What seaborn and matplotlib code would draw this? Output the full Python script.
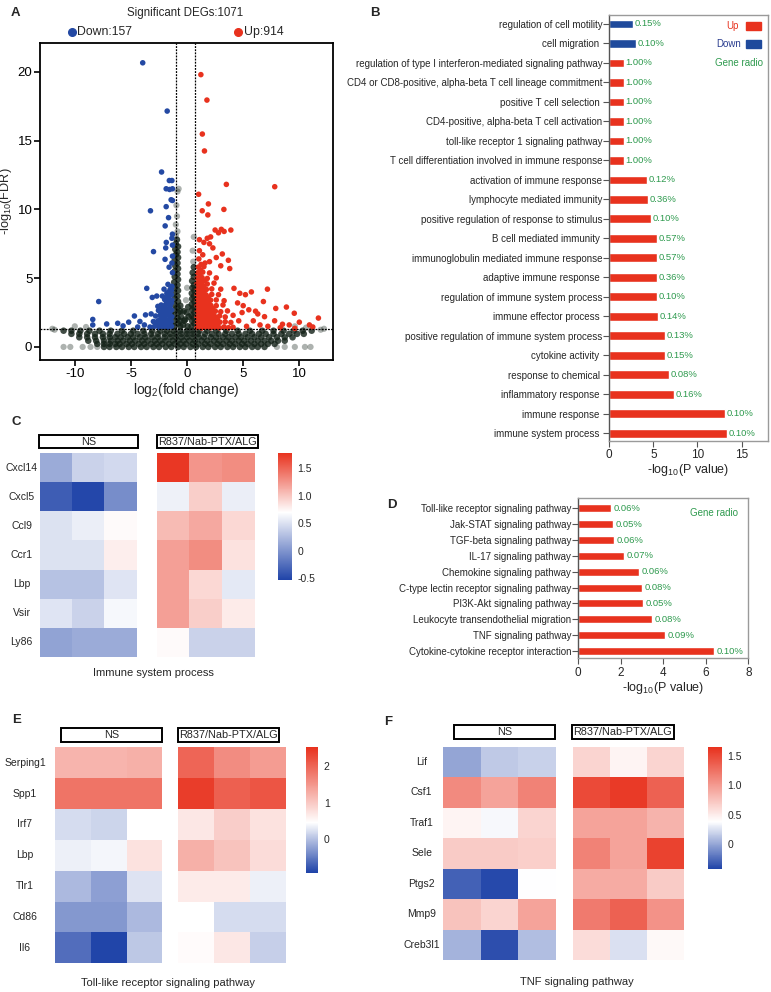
import numpy as np
import pandas as pd
import matplotlib
matplotlib.use("Agg")
import matplotlib.pyplot as plt
import seaborn as sns
from matplotlib.colors import LinearSegmentedColormap
from matplotlib.patches import Rectangle
from matplotlib.lines import Line2D

sns.set_theme(style="white")
plt.rcParams['font.family'] = ['Liberation Sans', 'DejaVu Sans']
plt.rcParams['mathtext.default'] = 'regular'
plt.rcParams['axes.unicode_minus'] = False

RED = '#E8321E'
BLUE = '#2449A3'
NAVY = '#1F4A9C'
GREEN = '#2E9A4E'

# ---------------- Panel A: volcano data ----------------
fc_thresholds = [-0.95, 0.75]
fdr_threshold = 1.3
n_down, n_up = 157, 914

ns_rows = [
    (0.0, [-7.4, -6.9, -6.3, -5.8, -5.2, -4.7, -4.1, -3.6, -3.0, -2.5, -1.9, -1.4,
           -0.8, -0.3, 0.3, 0.8, 1.4, 1.9, 2.5, 3.0, 3.6, 4.1, 4.7, 5.2, 5.8, 6.3, 6.9]),
    (0.22, [-8.0, -7.4, -6.9, -6.4, -6.0, -5.4, -4.9, -4.3, -3.8, -3.2, -2.7, -2.2, -1.6, -1.1, -0.6, -0.1, 0.5, 1.0,
            1.6, 2.1, 2.7, 3.2, 3.8, 4.3, 4.9, 5.4, 6.0, 6.6, 7.2, 7.8]),
    (0.45, [-8.8, -8.1, -7.4, -6.8, -6.2, -5.7, -5.1, -4.6, -4.0, -3.5, -2.9, -2.4, -1.9, -1.3, -0.8, -0.3, 0.2, 0.7,
            1.3, 1.8, 2.4, 2.9, 3.5, 4.0, 4.6, 5.1, 5.7, 6.3, 6.9, 7.5, 8.1, 8.7]),
    (0.7, [-9.6, -8.9, -8.2, -7.5, -6.9, -6.4, -5.9, -5.3, -4.8, -4.2, -3.7, -3.1, -2.6, -2.0, -1.5, -1.0, -0.5, 0.0,
           0.5, 1.0, 1.5, 2.1, 2.6, 3.2, 3.7, 4.3, 4.8, 5.4, 6.0, 6.6, 7.3, 8.0, 8.7, 9.4]),
    (0.95, [-10.3, -9.6, -8.9, -8.2, -7.5, -6.9, -6.2, -5.6, -5.0, -4.4, -3.8, -3.2, -2.6, -2.0, -1.5, -1.0, -0.5, 0.0,
            0.5, 1.0, 1.6, 2.2, 2.8, 3.4, 4.0, 4.6, 5.2, 5.8, 6.4, 7.0, 7.7, 8.4, 9.1, 9.8, 10.4]),
    (1.18, [-11.0, -10.3, -9.5, -8.7, -7.8, -6.8, -5.8, -4.8, -3.9, -3.1, -2.4, -1.8, -1.2, -0.6, 0.0, 0.5, 1.1, 1.8,
            2.6, 3.5, 4.5, 5.6, 6.7, 7.7, 8.6, 9.5, 10.3, 11.1]),
]

ns_points = [
    (-1.15, 1.5), (-0.8, 1.7), (-1.1, 1.9), (-0.85, 2.1), (-1.2, 2.3), (-0.8, 2.5), (-1.1, 2.7), (-0.85, 2.9),
    (-1.15, 3.1), (-0.8, 3.3), (-1.1, 3.5), (-0.85, 3.7), (-1.15, 3.9), (-0.8, 4.1), (-1.1, 4.3), (-0.85, 4.5),
    (-1.15, 4.7), (-0.8, 4.9), (-1.1, 5.1), (-0.85, 5.3), (-1.1, 5.5), (-0.8, 5.7), (-1.05, 5.9), (-0.85, 6.1),
    (-1.1, 6.3), (-0.8, 6.5), (-1.0, 6.7), (-0.85, 6.9), (-1.05, 7.1), (-0.8, 7.3), (-1.0, 7.5), (-0.9, 7.8),
    (-1.4, 1.6), (-1.45, 2.4), (-0.6, 1.5), (-0.55, 2.2), (-0.6, 3.0), (-0.65, 1.9), (-0.6, 2.6),
    (-0.35, 1.6), (-0.15, 2.0), (0.05, 1.5), (-0.3, 2.6), (0.1, 2.9), (-0.25, 1.9),
    (0.15, 2.2), (-0.05, 2.5),
    (0.4, 1.5), (0.65, 1.7), (0.45, 1.9), (0.62, 2.1), (0.4, 2.3), (0.65, 2.5), (0.45, 2.7), (0.62, 2.9),
    (0.42, 3.1), (0.65, 3.3), (0.45, 3.5), (0.62, 3.7), (0.42, 3.9), (0.65, 4.1), (0.48, 4.3), (0.62, 4.5),
    (0.45, 4.8), (0.6, 5.1), (0.5, 5.4), (0.6, 5.8),
]

ns_light = [
    (-11.0, 0.0), (-10.4, 0.0), (-9.3, 0.0), (-8.6, 0.0), (-8.0, 0.0), (8.0, 0.0), (8.7, 0.0), (9.6, 0.0),
    (10.5, 0.0), (11.0, 0.0), (-12.0, 1.32), (-10.0, 1.5), (-9.0, 1.45), (9.6, 1.5), (10.6, 1.4), (12.2, 1.32),
    (-11.8, 1.25), (11.9, 1.25),
    (-1.0, 8.1), (-0.85, 8.4), (-1.0, 8.9), (-0.9, 9.5), (-0.95, 10.3), (-0.85, 11.3), (-0.75, 11.5),
    (-0.1, 3.4), (0.0, 4.3), (0.55, 6.2), (0.5, 7.0), (0.6, 8.0),
]

down_points = [
    (-3.95, 20.66), (-1.77, 17.15), (-2.27, 12.72), (-1.58, 12.1), (-1.35, 12.1), (-1.86, 11.5), (-1.56, 11.45),
    (-1.3, 11.5), (-1.42, 10.7), (-1.3, 10.65), (-3.26, 9.9), (-1.86, 10.2), (-1.65, 9.4), (-1.95, 8.8),
    (-1.3, 8.2), (-1.35, 7.9), (-1.3, 7.4), (-1.85, 7.6), (-1.9, 7.2), (-2.99, 6.93), (-1.96, 6.37), (-1.3, 6.6),
    (-1.35, 6.1), (-1.6, 5.8), (-1.3, 5.4), (-1.7, 4.55), (-1.35, 4.4), (-3.59, 4.26), (-2.2, 3.7), (-3.1, 3.6),
    (-7.87, 3.3), (-8.4, 2.0), (-8.4, 1.6), (-7.16, 1.67), (-6.18, 1.72), (-5.7, 1.53), (-4.69, 2.25),
    (-5.2, 1.8), (-4.2, 1.85), (-3.7, 2.33), (-4.4, 1.45), (-3.8, 1.6),
    (-3.3, 1.45), (-2.9, 1.5), (-2.5, 1.42), (-2.1, 1.48), (-1.7, 1.44), (-1.38, 1.5),
    (-3.0, 1.85), (-2.6, 1.9), (-2.2, 1.82), (-1.8, 1.88), (-1.42, 1.85),
    (-2.8, 2.25), (-2.4, 2.3), (-2.0, 2.22), (-1.6, 2.28), (-1.36, 2.2),
    (-2.55, 2.65), (-2.1, 2.7), (-1.7, 2.62), (-1.38, 2.68),
    (-2.3, 3.05), (-1.9, 3.1), (-1.5, 3.02), (-3.2, 2.4), (-2.6, 2.95),
    (-2.0, 3.45), (-1.6, 3.5), (-1.36, 3.4), (-2.7, 3.7), (-1.8, 3.9), (-1.5, 4.2), (-2.05, 4.2),
    (-1.55, 1.65), (-1.95, 1.65), (-2.35, 1.65), (-1.55, 2.05), (-1.95, 2.05), (-2.35, 2.05), (-1.55, 2.45),
    (-1.95, 2.45), (-2.3, 2.45), (-1.55, 2.85), (-1.95, 2.9), (-1.4, 3.2), (-1.75, 3.3), (-1.4, 3.8),
    (-1.65, 4.0), (-1.4, 4.1), (-2.75, 1.65), (-2.2, 2.85), (-1.75, 3.65),
]

up_points = [
    (1.23, 19.8), (1.77, 17.95), (1.36, 15.48), (1.55, 14.25), (3.5, 11.82), (7.81, 11.65), (1.03, 11.1),
    (1.9, 10.4), (1.35, 9.9), (3.28, 10.0), (1.85, 9.6), (2.5, 8.5), (2.8, 8.3), (3.05, 8.55), (3.3, 8.4),
    (3.9, 8.5), (1.1, 7.8), (1.5, 7.6), (1.8, 7.9), (2.1, 8.0), (2.0, 7.5), (2.3, 7.2), (3.14, 6.76),
    (3.68, 6.3), (3.8, 5.7), (3.0, 5.9), (1.1, 7.0), (1.05, 6.4), (1.4, 6.7), (2.6, 6.5), (2.0, 6.2),
    (4.18, 4.26), (4.7, 3.9), (5.2, 3.8), (5.73, 4.0), (7.16, 4.2), (4.5, 3.2), (5.0, 3.0), (4.9, 2.5),
    (5.5, 2.7), (6.1, 2.6), (6.3, 2.4), (6.9, 2.2), (7.9, 2.8), (8.85, 2.9), (9.55, 2.45), (11.7, 2.1),
    (7.8, 1.9), (8.5, 1.65), (9.1, 1.6), (10.0, 1.8), (10.9, 1.6), (11.2, 1.45), (6.5, 1.6), (5.9, 1.9),
    (7.2, 1.5), (5.3, 1.5), (4.6, 1.9), (4.1, 2.3), (6.8, 3.3), (8.3, 1.4), (9.6, 1.35),
    (0.9, 1.42), (1.3, 1.38), (1.7, 1.45), (2.1, 1.4), (2.5, 1.44), (2.9, 1.39), (3.3, 1.46), (3.7, 1.4),
    (4.1, 1.43), (0.92, 1.8), (1.32, 1.84), (1.72, 1.78), (2.12, 1.82), (2.52, 1.86), (2.93, 1.8), (3.4, 1.83),
    (3.9, 1.78), (0.9, 2.2), (1.28, 2.24), (1.7, 2.18), (2.1, 2.22), (2.5, 2.2), (2.9, 2.26), (3.4, 2.18),
    (0.92, 2.6), (1.3, 2.62), (1.72, 2.58), (2.1, 2.64), (2.52, 2.6), (3.0, 2.56), (3.6, 2.62),
    (0.9, 3.0), (1.3, 3.04), (1.7, 2.98), (2.12, 3.02), (2.6, 3.0), (3.2, 3.05),
    (0.92, 3.4), (1.3, 3.38), (1.72, 3.44), (2.1, 3.4), (2.6, 3.42), (3.3, 3.36),
    (0.9, 3.8), (1.3, 3.84), (1.7, 3.78), (2.2, 3.82), (2.8, 3.8),
    (0.92, 4.2), (1.32, 4.24), (1.72, 4.18), (2.2, 4.22), (3.0, 4.2),
    (0.9, 4.6), (1.3, 4.62), (1.8, 4.58), (2.4, 4.64),
    (0.92, 5.0), (1.34, 5.04), (1.8, 4.98), (2.6, 5.02),
    (0.95, 5.4), (1.4, 5.44), (2.0, 5.38), (1.0, 5.8), (1.5, 5.84),
    (1.1, 1.6), (1.5, 1.6), (1.9, 1.6), (2.3, 1.6), (2.7, 1.6), (1.1, 2.0), (1.5, 2.0), (1.9, 2.0), (2.3, 2.0),
    (2.7, 2.0), (1.1, 2.4), (1.5, 2.4), (1.9, 2.4), (2.3, 2.4), (1.1, 2.8), (1.5, 2.8), (1.9, 2.8), (2.3, 2.8),
    (1.1, 3.2), (1.5, 3.2), (1.9, 3.2), (1.1, 3.6), (1.5, 3.6), (1.9, 3.6), (1.1, 4.0), (1.5, 4.0),
    (1.1, 4.4), (1.5, 4.4), (1.1, 4.8), (1.55, 4.8), (1.15, 5.2), (1.2, 5.6), (1.25, 6.0), (1.6, 6.1),
]

# ---------------- Panel B: GO enrichment ----------------
go_terms = [
    "regulation of cell motility", "cell migration ",
    "regulation of type I interferon-mediated signaling pathway",
    "CD4 or CD8-positive, alpha-beta T cell lineage commitment",
    "positive T cell selection ", "CD4-positive, alpha-beta T cell activation",
    "toll-like receptor 1 signaling pathway", "T cell differentiation involved in immune response",
    "activation of immune response", "lymphocyte mediated immunity",
    "positive regulation of response to stimulus", "B cell mediated immunity ",
    "immunoglobulin mediated immune response", "adaptive immune response ",
    "regulation of immune system process", "immune effector process ",
    "positive regulation of immune system process", "cytokine activity ",
    "response to chemical ", "inflammatory response ", "immune response ", "immune system process ",
]
go_logp = [2.72, 3.02, 1.66, 1.66, 1.66, 1.66, 1.66, 1.66, 4.30, 4.42, 4.69, 5.37, 5.37, 5.37, 5.44, 5.55,
           6.34, 6.34, 6.80, 7.33, 13.1, 13.3]
go_dir = ["Down", "Down"] + ["Up"] * 20
go_ratio = ["0.15%", "0.10%", "1.00%", "1.00%", "1.00%", "1.00%", "1.00%", "1.00%", "0.12%", "0.36%", "0.10%",
            "0.57%", "0.57%", "0.36%", "0.10%", "0.14%", "0.13%", "0.15%", "0.08%", "0.16%", "0.10%", "0.10%"]

# ---------------- Panel D: KEGG ----------------
kegg_terms = ["Toll-like receptor signaling pathway", "Jak-STAT signaling pathway", "TGF-beta signaling pathway",
              "IL-17 signaling pathway", "Chemokine signaling pathway", "C-type lectin receptor signaling pathway",
              "PI3K-Akt signaling pathway", "Leukocyte transendothelial migration", "TNF signaling pathway",
              "Cytokine-cytokine receptor interaction"]
kegg_logp = [1.54, 1.65, 1.68, 2.15, 2.87, 2.98, 3.06, 3.45, 4.08, 6.40]
kegg_ratio = ["0.06%", "0.05%", "0.06%", "0.07%", "0.06%", "0.08%", "0.05%", "0.08%", "0.09%", "0.10%"]

# ---------------- Heatmaps ----------------
groups = ["NS", "R837/Nab-PTX/ALG"]

c_genes = ["Cxcl14", "Cxcl5", "Ccl9", "Ccr1", "Lbp", "Vsir", "Ly86"]
c_ns = [[0.15, 0.40, 0.45], [-0.35, -0.50, -0.05], [0.50, 0.58, 0.72], [0.50, 0.50, 0.78],
        [0.30, 0.30, 0.52], [0.52, 0.40, 0.65], [0.10, 0.15, 0.15]]
c_tr = [[1.75, 1.25, 1.30], [0.60, 0.95, 0.58], [1.05, 1.15, 0.90], [1.20, 1.30, 0.85],
        [1.20, 0.90, 0.55], [1.20, 0.95, 0.80], [0.72, 0.40, 0.40]]

e_genes = ["Serping1", "Spp1", "Irf7", "Lbp", "Tlr1", "Cd86", "Il6"]
e_ns = [[1.20, 1.20, 1.25], [1.85, 1.85, 1.85], [0.20, 0.15, 0.45], [0.35, 0.38, 0.75],
        [-0.05, -0.25, 0.25], [-0.30, -0.30, -0.05], [-0.60, -0.90, 0.05]]
e_tr = [[2.00, 1.60, 1.45], [2.40, 2.05, 2.15], [0.70, 0.95, 0.75], [1.25, 1.05, 0.80],
        [0.65, 0.65, 0.35], [0.45, 0.20, 0.20], [0.50, 0.70, 0.10]]

f_genes = ["Lif", "Csf1", "Traf1", "Sele", "Ptgs2", "Mmp9", "Creb3l1"]
f_ns = [[0.00, 0.15, 0.18], [1.10, 0.95, 1.15], [0.45, 0.35, 0.65], [0.70, 0.70, 0.68],
        [-0.30, -0.40, 0.38], [0.75, 0.65, 0.95], [0.05, -0.38, 0.10]]
f_tr = [[0.65, 0.45, 0.65], [1.50, 1.60, 1.35], [0.95, 0.95, 0.85], [1.15, 0.95, 1.55],
        [0.90, 0.90, 0.70], [1.20, 1.35, 1.05], [0.60, 0.25, 0.42]]

# ======================================================================
W, H = 771, 992
fig = plt.figure(figsize=(W / 100, H / 100), dpi=100)


def box(l, t, r, b):
    return [l / W, 1 - b / H, (r - l) / W, (b - t) / H]


def fx(x):
    return x / W


def fy(y):
    return 1 - y / H


# ---------------- Panel A ----------------
ns_x = [x for y, xs in ns_rows for x in xs] + [p[0] for p in ns_points]
ns_y = [y for y, xs in ns_rows for x in xs] + [p[1] for p in ns_points]
ns_df = pd.DataFrame({"x": ns_x, "y": ns_y})
light_df = pd.DataFrame(ns_light, columns=["x", "y"])
down_df = pd.DataFrame(down_points, columns=["x", "y"])
up_df = pd.DataFrame(up_points, columns=["x", "y"])

axA = fig.add_axes(box(40, 43, 333, 360))
sns.scatterplot(data=light_df, x="x", y="y", ax=axA, color="#16241a", alpha=0.35, s=20, edgecolor="none",
                legend=False)
sns.scatterplot(data=ns_df, x="x", y="y", ax=axA, color="#122016", alpha=0.8, s=22, edgecolor="none",
                legend=False)
sns.scatterplot(data=down_df, x="x", y="y", ax=axA, color=BLUE, s=16, edgecolor="none", legend=False)
sns.scatterplot(data=up_df, x="x", y="y", ax=axA, color=RED, s=16, edgecolor="none", legend=False)
for v in fc_thresholds:
    axA.axvline(v, color="black", lw=0.9, ls=(0, (1.5, 1.0)))
axA.axhline(fdr_threshold, color="black", lw=0.9, ls=(0, (1.5, 1.0)))
axA.set_xlim(-13.1, 13.0)
axA.set_ylim(-0.95, 22.1)
axA.set_xticks([-10, -5, 0, 5, 10])
axA.set_yticks([0, 5, 10, 15, 20])
for s in axA.spines.values():
    s.set_color("black")
    s.set_linewidth(1.3)
axA.tick_params(bottom=True, left=True, direction="out", length=4, width=1.2, labelsize=9.5, pad=1.5,
                colors="black")
axA.set_xlabel("log$_{2}$(fold change)", fontsize=10, labelpad=1)
axA.set_ylabel("-log$_{10}$(FDR)", fontsize=9.2)
axA.yaxis.set_label_coords(-0.088, 0.5)
fig.text(fx(185), fy(13.3), f"Significant DEGs:{n_down + n_up}", ha="center", va="center", fontsize=8.3)
fig.add_artist(Line2D([fx(71.7)], [fy(31.7)], marker="o", color=BLUE, markersize=5.5, transform=fig.transFigure))
fig.text(fx(77), fy(31.7), f"Down:{n_down}", ha="left", va="center", fontsize=8.8)
fig.add_artist(Line2D([fx(238)], [fy(31.7)], marker="o", color=RED, markersize=5.5, transform=fig.transFigure))
fig.text(fx(244), fy(31.7), f"Up:{n_up}", ha="left", va="center", fontsize=8.8)

# ---------------- Panel B ----------------
dfB = pd.DataFrame({"term": go_terms, "logp": go_logp, "dir": go_dir})
axB = fig.add_axes(box(609.3, 15, 768, 440.7))
sns.barplot(data=dfB, x="logp", y="term", hue="dir", palette={"Up": RED, "Down": NAVY}, dodge=False,
            width=0.45, ax=axB, legend=False, orient="h", saturation=1)
axB.set_xlim(0, 18)
axB.set_ylim(21.38, -0.46)
axB.set_xticks([0, 5, 10, 15])
axB.set_xlabel("-log$_{10}$(P value)", fontsize=9, labelpad=1)
axB.set_ylabel("")
for s in axB.spines.values():
    s.set_color("#9a9a9a")
    s.set_linewidth(1.0)
axB.spines["left"].set_color("#555555")
axB.tick_params(axis="y", left=True, length=4, width=0.8, color="#555555", labelsize=7, pad=1)
axB.tick_params(axis="x", bottom=True, length=4, width=0.8, color="#555555", labelsize=8.5, pad=2)
for i, (v, lab) in enumerate(zip(go_logp, go_ratio)):
    axB.text(v + 0.2, i, lab, va="center", ha="left", color=GREEN, fontsize=6.8)
axB.text(0.813, 0.974, "Up", transform=axB.transAxes, ha="right", va="center", color=RED, fontsize=7)
axB.add_patch(Rectangle((0.861, 0.965), 0.095, 0.019, transform=axB.transAxes, color=RED, clip_on=False))
axB.text(0.828, 0.932, "Down", transform=axB.transAxes, ha="right", va="center", color="#2A3D8F", fontsize=7)
axB.add_patch(Rectangle((0.861, 0.923), 0.095, 0.019, transform=axB.transAxes, color=NAVY, clip_on=False))
axB.text(0.967, 0.887, "Gene radio", transform=axB.transAxes, ha="right", va="center", color=GREEN, fontsize=7)

# ---------------- Panel D ----------------
dfD = pd.DataFrame({"term": kegg_terms, "logp": kegg_logp})
axD = fig.add_axes(box(578.3, 498.3, 748.3, 658.3))
sns.barplot(data=dfD, x="logp", y="term", color=RED, width=0.5, ax=axD, orient="h", saturation=1)
axD.set_xlim(0, 8)
axD.set_ylim(9.46, -0.63)
axD.set_xticks([0, 2, 4, 6, 8])
axD.set_xlabel("-log$_{10}$(P value)", fontsize=9, labelpad=1)
axD.set_ylabel("")
for s in axD.spines.values():
    s.set_color("#9a9a9a")
    s.set_linewidth(1.0)
axD.spines["left"].set_color("#555555")
axD.tick_params(axis="y", left=True, length=4, width=0.8, color="#555555", labelsize=7, pad=1)
axD.tick_params(axis="x", bottom=True, length=4, width=0.8, color="#555555", labelsize=8.5, pad=2)
for i, (v, lab) in enumerate(zip(kegg_logp, kegg_ratio)):
    axD.text(v + 0.12, i, lab, va="center", ha="left", color=GREEN, fontsize=6.8)
axD.text(0.94, 0.908, "Gene radio", transform=axD.transAxes, ha="right", va="center", color=GREEN, fontsize=7)


# ---------------- Heatmap panels ----------------
def heat_panel(ns_vals, tr_vals, genes, ns_rect, tr_rect, ns_lab, tr_lab, cb_rect, vmin, vmax, wfrac,
               cticks, clabels, label_pad, title, title_xy):
    cmap = LinearSegmentedColormap.from_list("bwr_c", [(0.0, "#1F43A8"), (wfrac, "#FFFFFF"), (1.0, RED)])
    ax1 = fig.add_axes(box(*ns_rect))
    ax2 = fig.add_axes(box(*tr_rect))
    cax = fig.add_axes(box(*cb_rect))
    sns.heatmap(pd.DataFrame(ns_vals, index=genes), ax=ax1, cmap=cmap, vmin=vmin, vmax=vmax, cbar=False,
                xticklabels=False, yticklabels=True)
    sns.heatmap(pd.DataFrame(tr_vals, index=genes), ax=ax2, cmap=cmap, vmin=vmin, vmax=vmax, cbar=True,
                cbar_ax=cax, xticklabels=False, yticklabels=False)
    ax1.tick_params(axis="y", left=False, length=0, pad=label_pad, labelsize=7.5)
    plt.setp(ax1.get_yticklabels(), rotation=0, ha="center")
    ax1.set_ylabel("")
    ax2.set_ylabel("")
    cb = ax2.collections[0].colorbar
    cb.outline.set_visible(False)
    cb.set_ticks(cticks)
    cb.set_ticklabels(clabels)
    cax.tick_params(length=0, labelsize=7.5, pad=4)
    for (l, t, r, b), name in [(ns_lab, groups[0]), (tr_lab, groups[1])]:
        fig.add_artist(Rectangle((fx(l), fy(b)), (r - l) / W, (b - t) / H, transform=fig.transFigure,
                                 fill=False, lw=1.4, ec="black"))
        fig.text(fx((l + r) / 2), fy((t + b) / 2), name, ha="center", va="center", fontsize=7.8)
    fig.text(fx(title_xy[0]), fy(title_xy[1]), title, ha="center", va="center", fontsize=8)


heat_panel(c_ns, c_tr, c_genes, (40, 453.3, 136.7, 656.7), (156.7, 453.3, 255, 656.7),
           (39.3, 435, 138.3, 448.3), (156.7, 435, 258.3, 448.3), (278.3, 452.7, 291.7, 580),
           -0.53, 1.78, 0.53, [-0.5, 0, 0.5, 1.0, 1.5], ["-0.5", "0", "0.5", "1.0", "1.5"], 13.2,
           "Immune system process", (153, 673))

heat_panel(e_ns, e_tr, e_genes, (55, 747.3, 162.3, 963.3), (178.3, 747.3, 285.7, 963.3),
           (61, 728.3, 162.3, 741.7), (177.7, 728.3, 279.3, 741.7), (305.7, 747.3, 318.3, 872.7),
           -0.92, 2.51, 0.40, [0, 1, 2], ["0", "1", "2"], 21.6,
           "Toll-like receptor signaling pathway", (168, 983))

heat_panel(f_ns, f_tr, f_genes, (443.3, 746.7, 555.7, 960), (572.7, 746.7, 684, 960),
           (454, 725, 555, 739), (571.7, 725, 674.3, 739), (708.3, 747.3, 721.7, 869.3),
           -0.43, 1.65, 0.39, [0, 0.5, 1.0, 1.5], ["0", "0.5", "1.0", "1.5"], 15.6,
           "TNF signaling pathway", (577, 982))

# ---------------- Panel letters ----------------
for letter, (x, y) in {"A": (15, 13), "B": (375, 13), "C": (16.7, 421.7), "D": (391.7, 505),
                       "E": (16.7, 720), "F": (388.3, 721.7)}.items():
    fig.text(fx(x), fy(y), letter, ha="center", va="center", fontsize=9.5, fontweight="bold")

fig.savefig("out.png", dpi=100)
